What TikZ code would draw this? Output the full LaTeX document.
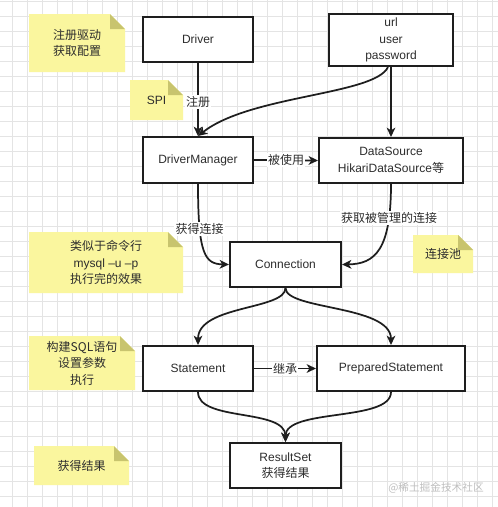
\documentclass[tikz,border=0pt]{standalone}
\usepackage{fontspec}
\setmainfont{Liberation Sans}
\newfontfamily\cjk{Noto Sans CJK SC}
\usetikzlibrary{arrows.meta,calc}
\definecolor{notey}{RGB}{250,246,158}
\definecolor{notefold}{RGB}{200,196,110}
\definecolor{txt}{RGB}{45,45,45}
\definecolor{gridc}{RGB}{228,228,228}
\definecolor{edgec}{RGB}{30,30,30}
\newcommand\mynote[6]{%
  \fill[notey] ({#2-#4/2},{#3-#5/2}) -- ({#2+#4/2-15},{#3-#5/2}) -- ({#2+#4/2},{#3-#5/2+15}) -- ({#2+#4/2},{#3+#5/2}) -- ({#2-#4/2},{#3+#5/2}) -- cycle;
  \fill[notefold] ({#2+#4/2-15},{#3-#5/2}) -- ({#2+#4/2-15},{#3-#5/2+15}) -- ({#2+#4/2},{#3-#5/2+15}) -- cycle;
  \node[notetext] (#1) at (#2,#3) {#6};
}
\tikzset{
  mybox/.style={draw=edgec, line width=1.5pt, fill=white, align=center, inner sep=0pt, text=txt},
  notetext/.style={align=center, inner sep=0pt, text=txt},
  conn/.style={draw=edgec, line width=1.3pt, -{Stealth[length=7pt,width=6.5pt,inset=2pt]}},
  lbl/.style={fill=white, inner sep=1pt, text=txt},
}
\begin{document}
\begin{tikzpicture}[x=0.75pt, y=-0.75pt, font=\fontsize{9}{12.4}\selectfont]
\useasboundingbox (0,0) rectangle (498,507);
\fill[white] (0,0) rectangle (498,507);
\foreach \gx in {12,27,...,497} \draw[gridc, line width=0.6pt] (\gx,0) -- (\gx,507);
\foreach \gy in {1,16,...,506} \draw[gridc, line width=0.6pt] (0,\gy) -- (498,\gy);

% notes
\mynote{n1}{77}{43}{96}{58}{{\cjk 注册驱动}\\{\cjk 获取配置}}
\mynote{nspi}{156.5}{100}{53}{40}{SPI}
\mynote{n3}{106}{262.5}{154}{61}{{\cjk 类似于命令行}\\mysql –u –p\\{\cjk 执行完的效果}}
\mynote{npool}{443}{254}{60}{38}{{\cjk 连接池}}
\mynote{nsql}{82}{363}{106}{54}{{\cjk 构建SQL语句}\\{\cjk 设置参数}\\{\cjk 执行}}
\mynote{nres}{81.5}{465.5}{95}{39}{{\cjk 获得结果}}

% boxes
\node[mybox, minimum width=82.5pt, minimum height=33.75pt] (drv) at (198,39.5) {Driver};
\node[mybox, minimum width=93pt, minimum height=39pt] (url) at (391,40) {url\\user\\password};
\node[mybox, minimum width=82.5pt, minimum height=34.5pt] (dm) at (198,160) {DriverManager};
\node[mybox, minimum width=108pt, minimum height=33.75pt] (ds) at (391,160.5) {DataSource\\HikariDataSource{\cjk 等}};
\node[mybox, minimum width=83.25pt, minimum height=33.75pt] (conn) at (285.5,264.5) {Connection};
\node[mybox, minimum width=82.5pt, minimum height=33.75pt] (st) at (198,368.5) {Statement};
\node[mybox, minimum width=111pt, minimum height=33.75pt] (ps) at (391,368.5) {PreparedStatement};
\node[mybox, minimum width=83.25pt, minimum height=33.75pt] (rs) at (285.5,465.5) {ResultSet\\{\cjk 获得结果}};

% connectors
\draw[conn] (drv.south) -- node[lbl, pos=0.53] (l1) {\cjk 注册} (dm.north);
\draw[conn] (url.south) -- (ds.north);
\draw[conn] ($(url.south)+(-3,0)$) .. controls (375,95) and (250,95) .. (dm.north);
\draw[conn] (dm.east) -- node[lbl] (l2) {\cjk 被使用} (ds.west);
\draw[conn] (dm.south) .. controls (198,255) and (205,264) .. node[lbl, pos=0.27] (l3) {\cjk 获得连接} (conn.west);
\draw[conn] (ds.south) .. controls (391,250) and (375,264) .. node[lbl, pos=0.2] (l4) {\cjk 获取被管理的连接} (conn.east);
\draw[conn] (conn.south) .. controls (285.5,310) and (198,305) .. (st.north);
\draw[conn] (conn.south) .. controls (285.5,310) and (391,305) .. (ps.north);
\draw[conn] (st.east) -- node[lbl] (l5) {\cjk 继承} (ps.west);
\draw[conn] (st.south) .. controls (198,422) and (285.5,408) .. (rs.north);
\draw[conn] (ps.south) .. controls (391,422) and (285.5,408) .. (rs.north);

\node[text=black!25, font=\cjk\fontsize{8}{10}\selectfont, inner sep=0pt] (wm) at (436,488) {@稀土掘金技术社区};
\end{tikzpicture}
\end{document}
